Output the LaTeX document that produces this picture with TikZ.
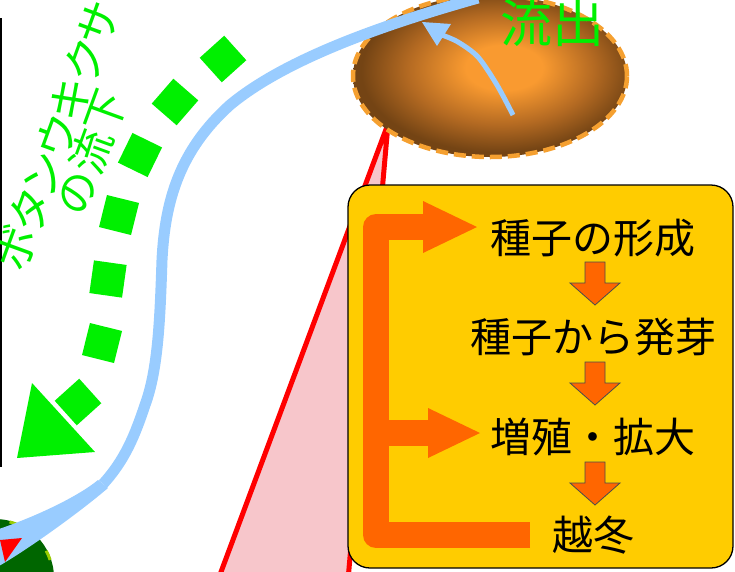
\documentclass[tikz,border=0pt]{standalone}
\usepackage{fontspec}
\newfontfamily\jp{Noto Sans CJK JP}
\newfontfamily\jpp[RawFeature=+palt]{Noto Sans CJK JP}
\usetikzlibrary{shapes.geometric}
\definecolor{river}{HTML}{99CCFF}
\definecolor{gold}{HTML}{FFCC00}
\definecolor{orng}{HTML}{FF6600}
\definecolor{grn}{HTML}{00F000}
\definecolor{dgreen}{HTML}{006600}
\definecolor{lgreen}{HTML}{99CC00}
\definecolor{pinkf}{HTML}{F7C6CB}
\definecolor{brownO}{HTML}{744414}
\definecolor{brownM}{HTML}{B46A22}
\definecolor{orangeI}{HTML}{F99A30}
\definecolor{dashO}{HTML}{F5A030}
\pgfdeclareradialshading{pondshade}{\pgfpoint{3bp}{3bp}}{color(0bp)=(orangeI); color(7bp)=(orangeI); color(17bp)=(brownM); color(25bp)=(brownO); color(50bp)=(brownO)}
\tikzset{
  sq/.style={fill=grn, minimum size=33, inner sep=0},
  boxtext/.style={font=\jp\fontsize{41}{41}\selectfont, inner sep=0},
  greenlabel/.style={text=grn, rotate=70, inner sep=0},
  downarrow/.style={fill=orng, draw=black!70, line width=0.8},
}
\begin{document}
\begin{tikzpicture}[x=1pt,y=-1pt]
\useasboundingbox (0,0) rectangle (735,571);
\clip (0,0) rectangle (735,571);
% left black line
\draw[line width=2] (1,18) -- (1,467);
% green circle (bottom left)
\fill[dgreen] (-5,578) circle (59);
\draw[lgreen, line width=3, dash pattern=on 10 off 14] (-5,578) circle (58);
% red/pink wedge
\filldraw[fill=pinkf, draw=red, line width=5, line join=round] (388,124) -- (218,580) -- (348,580) -- cycle;
% pond
\node[ellipse, minimum width=274, minimum height=162, shading=pondshade, draw=dashO, line width=4.5, dash pattern=on 12 off 6] (pond) at (490,76) {};
% river
\draw[river, line width=11]
  (478,-2) .. controls (400,20) and (290,55) .. (230,105)
  .. controls (180,150) and (165,200) .. (162,260)
  .. controls (160,320) and (158,370) .. (145,405)
  .. controls (135,435) and (125,460) .. (103,484);
\fill[river] (98,480) .. controls (80,495) and (40,515) .. (-1,529) -- (-1,566) .. controls (30,548) and (80,512) .. (108,488) -- cycle;
\fill[red] (0,540) -- (22,538) -- (5,562) -- cycle;
% small arrow in pond
\draw[river, line width=5] plot[smooth] coordinates {(513,115) (497,85) (478,57) (458,42) (442,35)};
\fill[river] (422,22) -- (451,24) -- (437,46) -- cycle;
\node[text=grn, font=\jp\fontsize{52}{52}\selectfont, inner sep=0] (out) at (552,23) {流出};
% green dotted arrow
\foreach \x/\y/\a [count=\i] in {223/59/42, 175/102/49, 140/155/64, 119/215/76, 108/279/82, 102/343/76, 78/402/42}
  \node[sq, rotate=\a] (sq\i) at (\x,\y) {};
\fill[grn] (32,383) -- (95,452) -- (17,458) -- cycle;
\node[greenlabel, font=\jpp\fontsize{44}{44}\selectfont] (lab1) at (57,136) {ボタンウキクサ};
\node[greenlabel, font=\jp\fontsize{43}{43}\selectfont] (lab2) at (91,152) {の流下};
% box
\node[draw=black, line width=1.3, fill=gold, rounded corners=22, minimum width=385, minimum height=383, inner sep=0] (box) at (540.5,376.5) {};
% bracket
\draw[orng, line width=26, line join=round] (530,535) -- (376,535) -- (376,227) -- (425,227);
\fill[orng] (423,201) -- (477,227) -- (423,253) -- cycle;
\draw[orng, line width=26] (376,433) -- (430,433);
\fill[orng] (428,408) -- (480,433) -- (428,458) -- cycle;
% texts
\node[boxtext] (t1) at (593,238) {種子の形成};
\node[boxtext] (t2) at (593,337) {種子から発芽};
\node[boxtext] (t3) at (593,437) {増殖・拡大};
\node[boxtext] (t4) at (593,535) {越冬};
\foreach \y in {262,362,462}
  \filldraw[downarrow] (585,\y) -- (605,\y) -- (605,\y+21) -- (620,\y+21) -- (595,\y+43) -- (570,\y+21) -- (585,\y+21) -- cycle;
\end{tikzpicture}
\end{document}
